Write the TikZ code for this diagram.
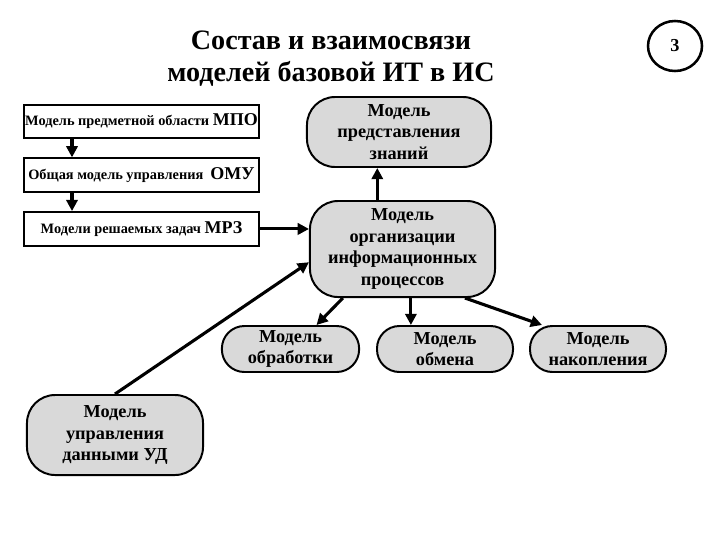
\documentclass[tikz,border=0pt]{standalone}
\usepackage{fontspec}
\setmainfont{Liberation Serif}
\usetikzlibrary{arrows.meta, positioning, shapes.geometric}
\definecolor{boxgray}{RGB}{217,217,217}
\tikzstyle{flatbox}=[rectangle, draw, line width=1.5pt, fill=white, minimum width=5.875cm,
  minimum height=0.84cm, inner sep=0pt, font=\bfseries\fontsize{10.2}{11}\selectfont]
\tikzstyle{roundbox}=[rectangle, rounded corners=20pt, draw, line width=1.4pt, fill=boxgray,
  align=center, inner sep=1pt, font=\bfseries\fontsize{13}{15.5}\selectfont]
\tikzstyle{arrow}=[-{Triangle[length=8pt,width=8pt]}, line width=2.2pt]
\newcommand{\abbr}[1]{{\fontsize{12.8}{13}\selectfont #1}}

\begin{document}
\begin{tikzpicture}[x=0.025cm, y=-0.025cm, node distance=0.45cm]
  \useasboundingbox (0,0) rectangle (720,540);
  % title and page number
  \node[align=center, font=\bfseries\fontsize{20}{22.8}\selectfont] (title) at (331,59)
    {Состав и взаимосвязи\\моделей базовой ИТ в ИС};
  \node[ellipse, draw, line width=1.8pt, minimum width=1.35cm, minimum height=1.25cm,
    font=\bfseries\fontsize{13}{13}\selectfont] (num) at (675,46) {3};
  % left column
  \node[flatbox] (mpo) at (141.5,121.5) {Модель предметной области \abbr{МПО}};
  \node[flatbox, below=of mpo] (omu) {Общая модель управления \ \abbr{ОМУ}};
  \node[flatbox, below=of omu] (mrz) {Модели решаемых задач \abbr{МРЗ}};
  \coordinate (lx) at (72,0);
  % rounded models
  \node[roundbox, minimum width=4.6cm, minimum height=1.75cm] (pz) at (399,132)
    {Модель\\представления\\знаний};
  \node[roundbox, minimum width=4.625cm, minimum height=2.4cm] (oip) at (402.5,249)
    {Модель\\организации\\информационных\\процессов};
  \node[roundbox, minimum width=4.4cm, minimum height=2cm] (ud) at (115,435)
    {Модель\\управления\\данными УД};
  \node[roundbox, rounded corners=16pt, minimum width=3.43cm, minimum height=1.15cm] (obr) at (290.5,349)
    {Модель\\обработки};
  \node[roundbox, rounded corners=16pt, minimum width=3.4cm, minimum height=1.15cm] (obm) at (445,349)
    {Модель\\обмена};
  \node[roundbox, rounded corners=16pt, minimum width=3.4cm, minimum height=1.15cm] (nak) at (598,349)
    {Модель\\накопления};
  % connectors
  \draw[arrow] (mpo.south -| lx) -- (omu.north -| lx);
  \draw[arrow] (omu.south -| lx) -- (mrz.north -| lx);
  \draw[arrow] (mrz.east) -- (mrz.east -| oip.west);
  \draw[arrow] ([xshift=-0.63cm]oip.north) -- ([xshift=-0.63cm]oip.north |- pz.south);
  \draw[arrow] (ud.north) -- ([yshift=-0.33cm]oip.west);
  \draw[arrow] ([xshift=-1.49cm]oip.south) -- ([xshift=0.65cm]obr.north);
  \draw[arrow] ([xshift=0.21cm]oip.south) -- ([xshift=0.21cm]oip.south |- obm.north);
  \draw[arrow] ([xshift=1.56cm]oip.south) -- ([xshift=-1.4cm]nak.north);
\end{tikzpicture}
\end{document}
